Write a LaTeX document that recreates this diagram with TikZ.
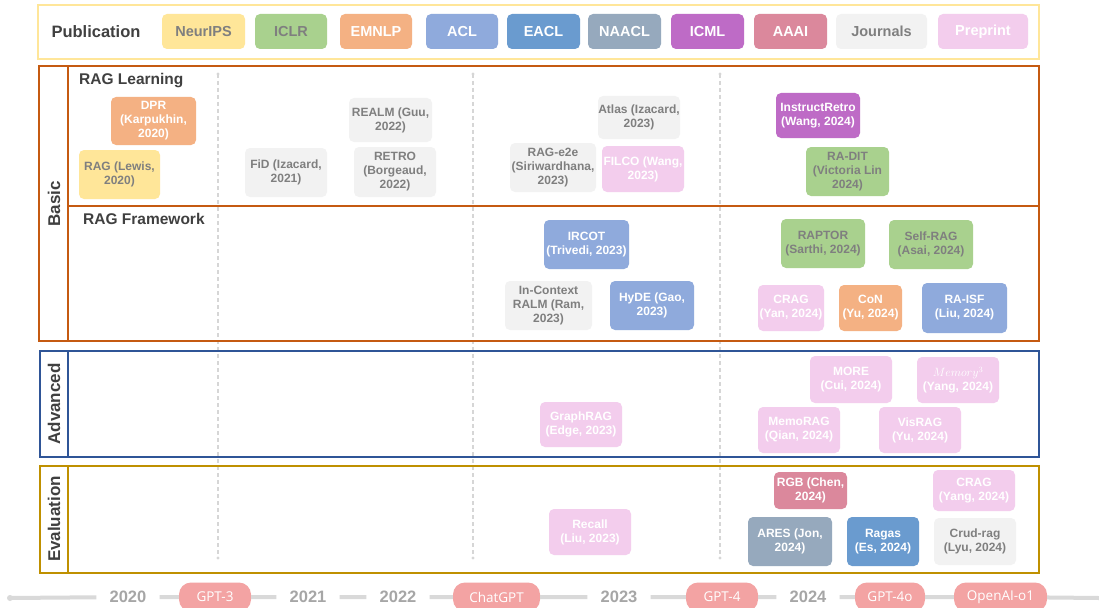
\documentclass[tikz,border=0pt]{standalone}
\usepackage{fontspec}
\setmainfont{Liberation Sans}
\newfontfamily\pillfont{Open Sans}
\definecolor{cNeur}{HTML}{FFE699}
\definecolor{cIclr}{HTML}{A9D18E}
\definecolor{cEmnlp}{HTML}{F4B183}
\definecolor{cAcl}{HTML}{8FAADC}
\definecolor{cEacl}{HTML}{6A9BCF}
\definecolor{cNaacl}{HTML}{96A9BD}
\definecolor{cIcml}{HTML}{BE6BC6}
\definecolor{cAaai}{HTML}{DB889C}
\definecolor{cJour}{HTML}{F2F2F2}
\definecolor{cPre}{HTML}{F3CDED}
\definecolor{cGrayT}{HTML}{7F7F7F}
\definecolor{cDark}{HTML}{404040}
\definecolor{cBasic}{HTML}{C55A11}
\definecolor{cAdv}{HTML}{2F5597}
\definecolor{cEval}{HTML}{BF9000}
\definecolor{cLegBorder}{HTML}{FFE699}
\definecolor{cDash}{HTML}{D6D6D6}
\definecolor{cLine}{HTML}{D9D9D9}
\definecolor{cYear}{HTML}{A6A6A6}
\definecolor{cPill}{HTML}{F3A3A3}
\tikzset{
  paper/.style={rounded corners=5pt, inner sep=0pt, align=center, font=\fontsize{12}{14}\selectfont\bfseries},
  legend/.style={rounded corners=5pt, inner sep=0pt, align=center, font=\fontsize{14.5}{16}\selectfont\bfseries},
  neurips/.style={fill=cNeur, text=cGrayT},
  iclr/.style={fill=cIclr, text=cGrayT},
  emnlp/.style={fill=cEmnlp, text=white},
  acl/.style={fill=cAcl, text=white},
  eacl/.style={fill=cEacl, text=white},
  naacl/.style={fill=cNaacl, text=white},
  icml/.style={fill=cIcml, text=white},
  aaai/.style={fill=cAaai, text=white},
  journal/.style={fill=cJour, text=cGrayT},
  preprint/.style={fill=cPre, text=white},
  frame/.style={line width=2.2pt},
  sidelabel/.style={rotate=90, font=\fontsize{17}{18}\selectfont\bfseries, text=cDark},
  sectitle/.style={anchor=west, inner sep=0pt, font=\fontsize{15.5}{17}\selectfont\bfseries, text=cDark},
  yearlabel/.style={font=\fontsize{16.5}{18}\selectfont\bfseries, text=cYear, inner xsep=13pt, inner ysep=2pt},
  pill/.style={fill=cPill, text=white, rounded corners=12pt, inner sep=0pt, minimum height=29pt, font=\pillfont\fontsize{13.5}{15}\selectfont},
  gridline/.style={cDash, line width=1.1pt, dash pattern=on 4pt off 3pt},
  tline/.style={cLine, line width=4pt}
}
\newcommand{\pbox}[7]{\node[#6, minimum width={(#4)-(#2)}, minimum height={(#5)-(#3)}] (#1) at ({((#2)+(#4))/2},{((#3)+(#5))/2}) {#7};}
\begin{document}
\begin{tikzpicture}[x=1pt,y=-1pt]
\clip (0,0) rectangle (1099,607);
\fill[white] (0,0) rectangle (1099,607);

% grid lines
\foreach \gx/\gn in {218/g1,473/g2,720/g3}{
  \coordinate (\gn t) at (\gx,74);
  \coordinate (\gn b) at (\gx,558);
  \draw[gridline] (\gn t) -- (\gn b);
  \fill[cDash] (\gn t) circle (1.6pt);
  \fill[cDash] (\gn b) circle (1.6pt);
}

% legend
\draw[cLegBorder, line width=1.8pt, fill=white] (38,5) rectangle (1039,59);
\node[font=\fontsize{16.5}{18}\selectfont\bfseries, text=cDark] (pub) at (96,32) {Publication};
\pbox{lneur}{162}{14}{245}{49}{legend,neurips}{NeurIPS}
\pbox{liclr}{255}{14}{327}{49}{legend,iclr}{ICLR}
\pbox{lemnlp}{340}{14}{412}{49}{legend,emnlp}{EMNLP}
\pbox{lacl}{426}{14}{498}{49}{legend,acl}{ACL}
\pbox{leacl}{507}{14}{580}{49}{legend,eacl}{EACL}
\pbox{lnaacl}{588}{14}{661}{49}{legend,naacl}{NAACL}
\pbox{licml}{671}{14}{744}{49}{legend,icml}{ICML}
\pbox{laaai}{754}{14}{827}{49}{legend,aaai}{AAAI}
\pbox{ljour}{836}{14}{927}{49}{legend,journal}{Journals}
\pbox{lpre}{938}{14}{1028}{49}{legend,preprint}{Preprint}

% frames
\draw[frame, cBasic] (39,66) rectangle (1039,341);
\draw[frame, cBasic] (68,66) -- (68,341);
\draw[frame, cBasic] (68,206) -- (1039,206);
\draw[frame, cAdv] (40,351) rectangle (1039,457);
\draw[frame, cAdv] (68,351) -- (68,457);
\draw[frame, cEval] (40,466) rectangle (1039,573);
\draw[frame, cEval] (68,466) -- (68,573);

\node[sidelabel] (lbasic) at (54,204) {Basic};
\node[sidelabel] (ladv) at (54,404) {Advanced};
\node[sidelabel] (leval) at (54,519) {Evaluation};
\node[sectitle] (tlearn) at (79,81) {RAG Learning};
\node[sectitle] (tframe) at (83,219) {RAG Framework};

% RAG learning
\pbox{dpr}{111}{97}{196}{145}{paper,emnlp}{DPR\\(Karpukhin,\\2020)}
\pbox{rag}{79}{150}{160}{199}{paper,neurips}{RAG (Lewis,\\2020)}
\pbox{fid}{245}{148}{327}{197}{paper,journal}{FiD (Izacard,\\2021)}
\pbox{realm}{349}{98}{432}{142}{paper,journal}{REALM (Guu,\\2022)}
\pbox{retro}{354}{147}{436}{197}{paper,journal}{RETRO\\(Borgeaud,\\2022)}
\pbox{atlas}{598}{96}{680}{139}{paper,journal}{Atlas (Izacard,\\2023)}
\pbox{rage2e}{510}{143}{596}{192}{paper,journal}{RAG-e2e\\(Siriwardhana,\\2023)}
\pbox{filco}{602}{146}{684}{192}{paper,preprint}{FILCO (Wang,\\2023)}
\pbox{instr}{776}{93}{860}{138}{paper,icml}{InstructRetro\\(Wang, 2024)}
\pbox{radit}{806}{147}{889}{196}{paper,iclr}{RA-DIT\\(Victoria Lin\\2024)}

% RAG framework
\pbox{ircot}{544}{220}{629}{269}{paper,acl}{IRCOT\\(Trivedi, 2023)}
\pbox{icralm}{505}{281}{592}{330}{paper,journal}{In-Context\\RALM (Ram,\\2023)}
\pbox{hyde}{610}{281}{694}{330}{paper,acl}{HyDE (Gao,\\2023)}
\pbox{raptor}{781}{219}{865}{268}{paper,iclr}{RAPTOR\\(Sarthi, 2024)}
\pbox{selfrag}{889}{220}{973}{269}{paper,iclr}{Self-RAG\\(Asai, 2024)}
\pbox{cragyan}{758}{285}{824}{331}{paper,preprint}{CRAG\\(Yan, 2024)}
\pbox{con}{839}{285}{902}{331}{paper,emnlp}{CoN\\(Yu, 2024)}
\pbox{raisf}{922}{283}{1007}{333}{paper,acl}{RA-ISF\\(Liu, 2024)}

% Advanced
\pbox{more}{810}{356}{892}{403}{paper,preprint}{MORE\\(Cui, 2024)}
\pbox{mem}{917}{357}{999}{403}{paper,preprint}{$Memory^{3}$\\(Yang, 2024)}
\pbox{graphrag}{540}{402}{622}{447}{paper,preprint}{GraphRAG\\(Edge, 2023)}
\pbox{memorag}{758}{407}{840}{453}{paper,preprint}{MemoRAG\\(Qian, 2024)}
\pbox{visrag}{879}{407}{961}{453}{paper,preprint}{VisRAG\\(Yu, 2024)}

% Evaluation
\pbox{rgb}{774}{472}{847}{509}{paper,aaai}{RGB (Chen,\\2024)}
\pbox{cragyang}{933}{470}{1015}{511}{paper,preprint}{CRAG\\(Yang, 2024)}
\pbox{recall}{549}{509}{631}{555}{paper,preprint}{Recall\\(Liu, 2023)}
\pbox{ares}{748}{517}{832}{566}{paper,naacl}{ARES (Jon,\\2024)}
\pbox{ragas}{847}{517}{919}{566}{paper,eacl}{Ragas\\(Es, 2024)}
\pbox{crud}{934}{518}{1016}{565}{paper,journal}{Crud-rag\\(Lyu, 2024)}

% timeline
\coordinate (tstart) at (10,598);
\coordinate (tend) at (1099,598);
\node[yearlabel] (y2020) at (128,597) {2020};
\node[yearlabel] (y2021) at (308,597) {2021};
\node[yearlabel] (y2022) at (398,597) {2022};
\node[yearlabel] (y2023) at (619,597) {2023};
\node[yearlabel] (y2024) at (808,597) {2024};
\node[pill, minimum width=72pt] (gpt3) at (215,597) {GPT-3};
\node[pill, minimum width=87pt] (chatgpt) at (496.5,597) {ChatGPT};
\node[pill, minimum width=72pt] (gpt4) at (722,597) {GPT-4};
\node[pill, minimum width=70pt] (gpt4o) at (890,597) {GPT-4o};
\node[pill, minimum width=93pt] (o1) at (1000.5,597) {OpenAI-o1};
\draw[tline] (tstart) -- (y2020) -- (gpt3) -- (y2021) -- (y2022) -- (chatgpt) -- (y2023) -- (gpt4) -- (y2024) -- (gpt4o) -- (o1) -- (tend);
\fill[cLine] (tstart) circle (3pt);
\end{tikzpicture}
\end{document}
